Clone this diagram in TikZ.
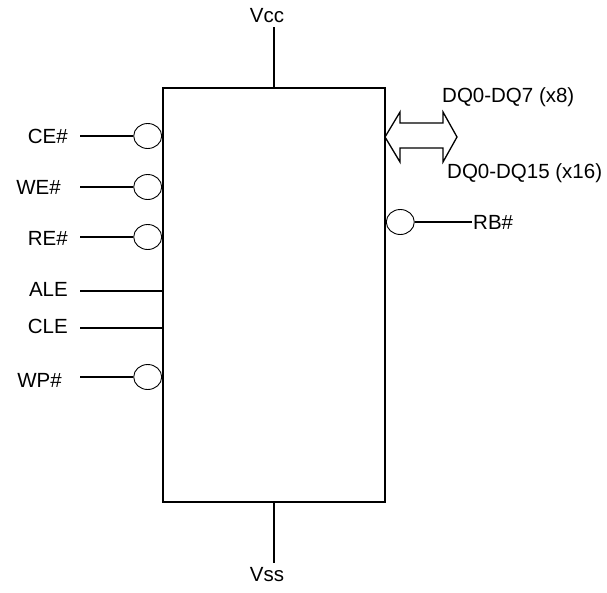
\documentclass[tikz,border=0pt]{standalone}
\usepackage{fontspec}
\setmainfont{Liberation Sans}
\usetikzlibrary{positioning,shapes.geometric}
\tikzset{
	wire/.style={line width=1.3pt},
	bubble/.style={ellipse, draw, line width=0.9pt, minimum width=28pt, minimum height=25pt, inner sep=0pt},
	signame/.style={inner sep=0pt, font=\fontsize{20.5}{24}\selectfont}
}
\begin{document}
\begin{tikzpicture}[x=1pt,y=-1pt]
	\useasboundingbox (0,0) rectangle (607,592);
	\node (chip) [draw, line width=1.7pt, minimum width=222pt, minimum height=414pt, inner sep=0pt] at (274,295) {};
	
	% supply
	\coordinate (vccEnd) at (274,27);
	\coordinate (vssEnd) at (274,563);
	\node (vcc) [signame] at (267,16) {Vcc};
	\node (vss) [signame] at (267,575) {Vss};
	\draw[wire] (chip.north) -- (vccEnd);
	\draw[wire] (chip.south) -- (vssEnd);
	
	% left side inputs
	\coordinate (ceIn) at (80,136);
	\coordinate (weIn) at (80,187);
	\coordinate (reIn) at (80,237);
	\coordinate (aleIn) at (80,291);
	\coordinate (cleIn) at (80,328);
	\coordinate (wpIn) at (80,377);
	\node (ce) [signame, anchor=east] at (68,136) {CE\#};
	\node (we) [signame, anchor=east] at (61,187) {WE\#};
	\node (re) [signame, anchor=east] at (68,238) {RE\#};
	\node (ale) [signame, anchor=east] at (68,289) {ALE};
	\node (cle) [signame, anchor=east] at (68,326) {CLE};
	\node (wp) [signame, anchor=east] at (62,380) {WP\#};
	\node (ceB) [bubble, anchor=east] at (chip.west |- ceIn) {};
	\node (weB) [bubble, anchor=east] at (chip.west |- weIn) {};
	\node (reB) [bubble, anchor=east] at (chip.west |- reIn) {};
	\node (wpB) [bubble, anchor=east] at (chip.west |- wpIn) {};
	\draw[wire] (ceIn) -- (ceB);
	\draw[wire] (weIn) -- (weB);
	\draw[wire] (reIn) -- (reB);
	\draw[wire] (aleIn) -- (chip.west |- aleIn);
	\draw[wire] (cleIn) -- (chip.west |- cleIn);
	\draw[wire] (wpIn) -- (wpB);
	
	% right side
	\coordinate (rbOut) at (472,222);
	\node (rbB) [bubble, anchor=west] at (chip.east |- rbOut) {};
	\node (rb) [signame, anchor=west] at (473,222) {RB\#};
	\draw[wire] (rbB) -- (rbOut);
	
	% data bus
	\draw[wire] (385,137) -- (400,112) -- (400,123) -- (443,123) -- (443,112) -- (457,137)
		-- (443,162) -- (443,148) -- (400,148) -- (400,162) -- cycle;
	\node (dq8) [signame, anchor=base west] at (442,102) {DQ0-DQ7 (x8)};
	\node (dq16) [signame, anchor=base west] at (447,178) {DQ0-DQ15 (x16)};
\end{tikzpicture}
\end{document}
